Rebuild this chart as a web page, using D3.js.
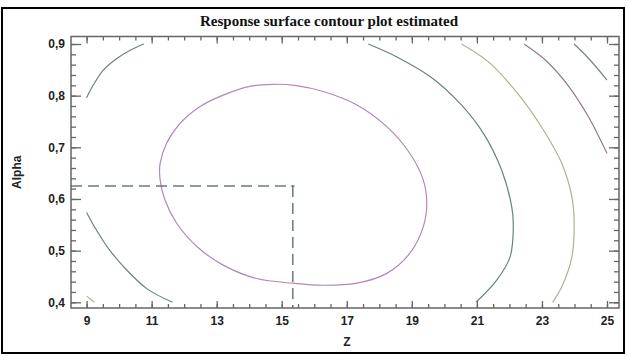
<!DOCTYPE html>
<html>
<head>
<meta charset="utf-8">
<script src="https://cdn.jsdelivr.net/npm/d3@7"></script>
<style>
  html, body { margin: 0; padding: 0; background: #fff; }
  svg { display: block; }
</style>
</head>
<body>
<svg id="chart" width="627" height="356"></svg>
<script>
// Axis ticks
const zTicks = [9, 11, 13, 15, 17, 19, 21, 23, 25];
const alphaTicks = [0.4, 0.5, 0.6, 0.7, 0.8, 0.9];

// Contour lines of the estimated response, as [Z, Alpha] points
const contourInner = [
  [11.26, 0.669], [11.46, 0.708], [11.87, 0.746], [12.49, 0.779], [13.20, 0.801],
  [14.02, 0.818], [14.74, 0.822], [15.40, 0.820], [16.28, 0.808], [17.31, 0.782],
  [18.23, 0.740], [18.94, 0.688], [19.35, 0.637], [19.46, 0.592], [19.35, 0.546],
  [18.94, 0.495], [18.23, 0.456], [17.31, 0.437], [16.28, 0.433], [15.34, 0.437],
  [14.23, 0.446], [13.20, 0.472], [12.39, 0.508], [11.77, 0.553], [11.41, 0.598],
  [11.26, 0.637]
];
const contourSecondTopLeft = [
  [9.00, 0.796], [9.21, 0.821], [9.52, 0.850], [9.93, 0.872], [10.34, 0.888], [10.76, 0.900]
];
const contourSecondBottomLeft = [
  [9.00, 0.574], [9.31, 0.539], [9.72, 0.500], [10.24, 0.462], [10.86, 0.426], [11.64, 0.400]
];
const contourSecondRight = [
  [17.66, 0.900], [18.54, 0.875], [19.56, 0.837], [20.48, 0.785], [21.20, 0.727],
  [21.76, 0.656], [22.07, 0.585], [22.12, 0.546], [22.02, 0.488], [21.61, 0.443],
  [20.97, 0.400]
];
const contourThirdLeft = [[9.00, 0.412], [9.24, 0.400]];
const contourThirdRight = [
  [20.53, 0.900], [21.40, 0.863], [22.33, 0.798], [23.04, 0.734], [23.61, 0.669],
  [23.92, 0.604], [23.99, 0.553], [23.92, 0.488], [23.61, 0.430], [23.33, 0.400]
];
const contourFourth = [[22.45, 0.900], [23.12, 0.868], [23.80, 0.820], [24.42, 0.760], [25.00, 0.688]];
const contourFifth = [[23.99, 0.900], [24.48, 0.869], [25.00, 0.830]];

// Estimated optimum
const optimum = [15.34, 0.625];

const lines = [
  { pts: contourInner, color: "#b288b4", closed: true },
  { pts: contourSecondTopLeft, color: "#688676" },
  { pts: contourSecondBottomLeft, color: "#688676" },
  { pts: contourSecondRight, color: "#688676" },
  { pts: contourThirdLeft, color: "#b0b290" },
  { pts: contourThirdRight, color: "#b0b290" },
  { pts: contourFourth, color: "#92788e" },
  { pts: contourFifth, color: "#78848a" }
];

const svg = d3.select("#chart");
const W = 627, H = 356;

// Plot frame in pixels
const frame = { left: 71, right: 619, top: 36.5, bottom: 308 };

const x = d3.scaleLinear().domain([9, 25]).range([86.6, 607]);
const y = d3.scaleLinear().domain([0.4, 0.9]).range([302.3, 44]);

svg.append("rect").attr("width", W).attr("height", H).attr("fill", "#fff");

// Outer border
svg.append("rect")
  .attr("x", 2).attr("y", 8).attr("width", 622).attr("height", 345)
  .attr("fill", "none").attr("stroke", "#000").attr("stroke-width", 2);

// Title
svg.append("text")
  .attr("x", 329).attr("y", 26)
  .attr("text-anchor", "middle")
  .attr("font-family", "'Liberation Serif', 'Times New Roman', serif")
  .attr("font-weight", "bold").attr("font-size", 15)
  .attr("fill", "#111")
  .text("Response surface contour plot estimated");

// Contours
const lineGen = d3.line().x(d => x(d[0])).y(d => y(d[1]));
lines.forEach(l => {
  lineGen.curve(l.closed ? d3.curveCatmullRomClosed.alpha(0.5) : d3.curveCatmullRom.alpha(0.5));
  svg.append("path")
    .attr("d", lineGen(l.pts))
    .attr("fill", "none")
    .attr("stroke", l.color)
    .attr("stroke-width", 1.2);
});

// Dashed guides to the optimum
const guide = svg.append("g")
  .attr("stroke", "#66788c").attr("stroke-width", 1.5)
  .attr("stroke-dasharray", "11,6").attr("fill", "none");
guide.append("line")
  .attr("x1", frame.left).attr("x2", x(optimum[0]))
  .attr("y1", y(optimum[1])).attr("y2", y(optimum[1]));
guide.append("line")
  .attr("x1", x(optimum[0])).attr("x2", x(optimum[0]))
  .attr("y1", y(optimum[1])).attr("y2", frame.bottom);
svg.append("line")
  .attr("x1", x(optimum[0]) - 2).attr("x2", x(optimum[0]) + 2)
  .attr("y1", y(optimum[1])).attr("y2", y(optimum[1]))
  .attr("stroke", "#4d6a5c").attr("stroke-width", 1);

// Frame
svg.append("rect")
  .attr("x", frame.left).attr("y", frame.top)
  .attr("width", frame.right - frame.left).attr("height", frame.bottom - frame.top)
  .attr("fill", "none").attr("stroke", "#666").attr("stroke-width", 1.5);

const zMinor = d3.range(9, 25.01, 0.5);
const aMinor = d3.range(0.4, 0.9001, 0.02);

function styleAxis(g) {
  g.select(".domain").remove();
  g.selectAll(".tick line").attr("stroke", "#666").attr("stroke-width", 1.3);
  g.selectAll("text")
    .attr("font-family", "'Liberation Sans', Arial, sans-serif")
    .attr("font-weight", "bold").attr("font-size", 12).attr("fill", "#222");
}

// Bottom axis
svg.append("g").attr("transform", `translate(0,${frame.bottom})`)
  .call(d3.axisBottom(x).tickValues(zMinor).tickSize(-4).tickFormat(""))
  .call(styleAxis);
svg.append("g").attr("transform", `translate(0,${frame.bottom})`)
  .call(d3.axisBottom(x).tickValues(zTicks).tickSize(-7).tickPadding(8).tickFormat(d3.format("d")))
  .call(styleAxis);
// Top axis
svg.append("g").attr("transform", `translate(0,${frame.top})`)
  .call(d3.axisTop(x).tickValues(zMinor).tickSize(-4).tickFormat(""))
  .call(styleAxis);
svg.append("g").attr("transform", `translate(0,${frame.top})`)
  .call(d3.axisTop(x).tickValues(zTicks).tickSize(-7).tickFormat(""))
  .call(styleAxis);
// Left axis
const commaFmt = d => d3.format(".1f")(d).replace(".", ",");
svg.append("g").attr("transform", `translate(${frame.left},0)`)
  .call(d3.axisLeft(y).tickValues(aMinor).tickSize(-5).tickFormat(""))
  .call(styleAxis);
svg.append("g").attr("transform", `translate(${frame.left},0)`)
  .call(d3.axisLeft(y).tickValues(alphaTicks).tickSize(-10).tickPadding(6).tickFormat(commaFmt))
  .call(styleAxis);
// Right axis
svg.append("g").attr("transform", `translate(${frame.right},0)`)
  .call(d3.axisRight(y).tickValues(aMinor).tickSize(-5).tickFormat(""))
  .call(styleAxis);
svg.append("g").attr("transform", `translate(${frame.right},0)`)
  .call(d3.axisRight(y).tickValues(alphaTicks).tickSize(-10).tickFormat(""))
  .call(styleAxis);

// Axis titles
svg.append("text")
  .attr("x", x(17)).attr("y", 346)
  .attr("text-anchor", "middle")
  .attr("font-family", "'Liberation Sans', Arial, sans-serif")
  .attr("font-weight", "bold").attr("font-size", 12).attr("fill", "#222")
  .text("Z");
svg.append("text")
  .attr("transform", `translate(21,${(frame.top + frame.bottom) / 2}) rotate(-90)`)
  .attr("text-anchor", "middle")
  .attr("font-family", "'Liberation Sans', Arial, sans-serif")
  .attr("font-weight", "bold").attr("font-size", 12).attr("fill", "#222")
  .text("Alpha");
</script>
</body>
</html>
